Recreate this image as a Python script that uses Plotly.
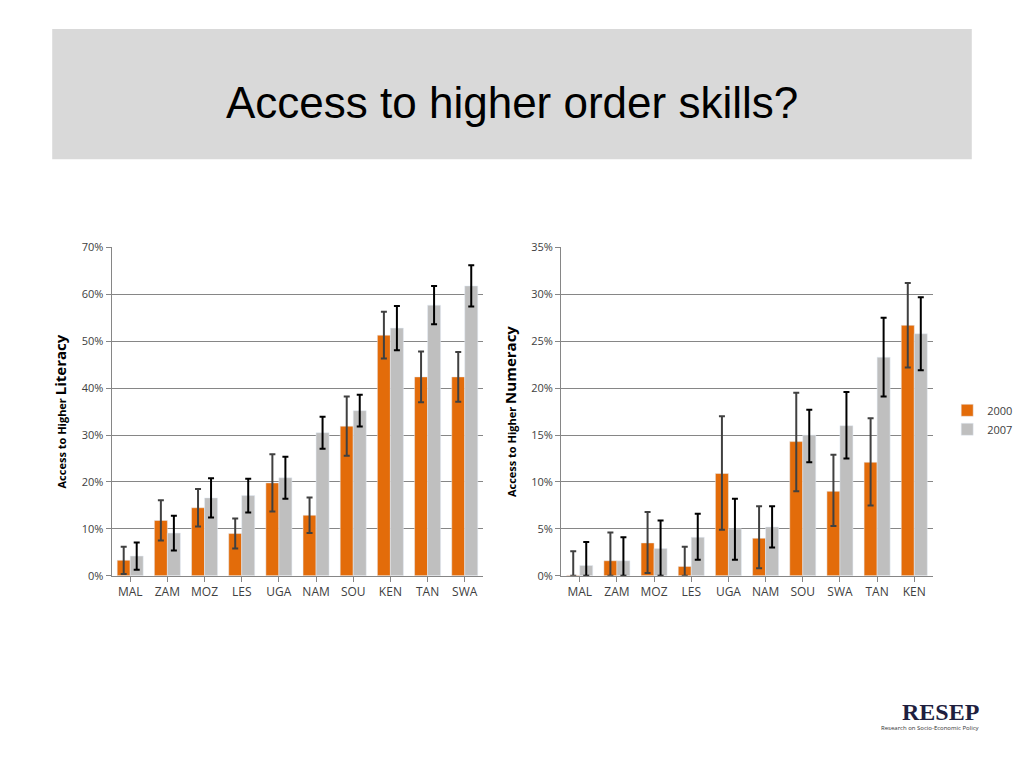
import plotly.graph_objects as go

cats_lit = ["MAL","ZAM","MOZ","LES","UGA","NAM","SOU","KEN","TAN","SWA"]
lit_2000 = [3.3,11.8,14.5,9.0,19.8,12.9,31.9,51.3,42.4,42.4]
lit_2000_err = [2.9,4.3,4.0,3.2,6.1,3.8,6.3,5.0,5.4,5.3]
lit_2007 = [4.2,9.1,16.6,17.1,20.9,30.5,35.2,52.8,57.7,61.8]
lit_2007_err = [2.9,3.7,4.2,3.6,4.5,3.4,3.4,4.7,4.1,4.4]

cats_num = ["MAL","ZAM","MOZ","LES","UGA","NAM","SOU","SWA","TAN","KEN"]
num_2000 = [0.05,1.6,3.5,1.0,10.9,4.0,14.3,9.0,12.1,26.7]
num_2000_plus = [2.55,3.0,3.3,2.1,6.1,3.4,5.2,3.9,4.7,4.5]
num_2000_minus = [0.05,1.6,3.2,1.0,6.0,3.2,5.3,3.7,4.6,4.5]
num_2007 = [1.1,1.6,2.9,4.1,5.0,5.2,15.0,16.0,23.3,25.8]
num_2007_plus = [2.5,2.5,3.0,2.5,3.2,2.2,2.7,3.6,4.2,3.9]
num_2007_minus = [1.1,1.6,2.9,2.4,3.3,2.2,2.9,3.5,4.2,3.9]

OR = "#E36C0A"; GR = "#BFBFBF"
fig = go.Figure()
fig.add_bar(x=cats_lit, y=lit_2000, marker_color=OR, name="2000", showlegend=False,
            error_y=dict(type="data", array=lit_2000_err, color="#404040", thickness=2, width=3),
            xaxis="x", yaxis="y")
fig.add_bar(x=cats_lit, y=lit_2007, marker_color=GR, name="2007", showlegend=False,
            error_y=dict(type="data", array=lit_2007_err, color="#000000", thickness=2, width=3),
            xaxis="x", yaxis="y")
fig.add_bar(x=cats_num, y=num_2000, marker_color=OR, name="2000",
            error_y=dict(type="data", symmetric=False, array=num_2000_plus, arrayminus=num_2000_minus, color="#404040", thickness=2, width=3),
            xaxis="x2", yaxis="y2")
fig.add_bar(x=cats_num, y=num_2007, marker_color=GR, name="2007",
            error_y=dict(type="data", symmetric=False, array=num_2007_plus, arrayminus=num_2007_minus, color="#000000", thickness=2, width=3),
            xaxis="x2", yaxis="y2")

font = "Open Sans, Liberation Sans, sans-serif"
ax = dict(showgrid=False, showline=True, linecolor="#868686", ticks="outside", tickcolor="#868686",
          tickfont=dict(size=12, color="#404040"), ticklen=5)
ya = dict(showgrid=True, gridcolor="#868686", showline=True, linecolor="#868686", ticks="outside",
          tickcolor="#868686", ticksuffix="%", tickfont=dict(size=11, color="#404040"), zeroline=False)
fig.update_layout(
    width=1024, height=768, paper_bgcolor="white", plot_bgcolor="white",
    font=dict(family=font), barmode="group", bargap=0.3, bargroupgap=0,
    margin=dict(l=0, r=0, t=0, b=0),
    xaxis=dict(ax, domain=[0.109, 0.472], anchor="y"),
    yaxis=dict(ya, domain=[0.246, 0.682], range=[0, 70], dtick=10, anchor="x",
               title=dict(text="<b>Access to Higher <span style='font-size:15px'>Literacy</span></b>", font=dict(size=11, color="black"), standoff=12)),
    xaxis2=dict(ax, domain=[0.548, 0.911], anchor="y2"),
    yaxis2=dict(ya, domain=[0.246, 0.682], range=[0, 35], dtick=5, anchor="x2",
                title=dict(text="<b>Access to Higher <span style='font-size:15px'>Numeracy</span></b>", font=dict(size=11, color="black"), standoff=12)),
    legend=dict(x=0.925, y=0.485, xanchor="left", yanchor="top", font=dict(size=11, color="#404040"),
                itemwidth=30, tracegroupgap=4),
    shapes=[dict(type="rect", xref="paper", yref="paper", x0=0.051, x1=0.949, y0=0.799, y1=0.972,
                 fillcolor="#D9D9D9", line=dict(width=0), layer="below")],
    annotations=[
        dict(text="Access to higher order skills?", xref="paper", yref="paper", x=0.5, y=0.875,
             yanchor="middle", showarrow=False, font=dict(family="Liberation Sans, Arial", size=44, color="black")),
        dict(text="<b>RESEP</b>", xref="paper", yref="paper", x=0.958, y=1-718/768, xanchor="right",
             yanchor="middle", showarrow=False, font=dict(family="Liberation Serif", size=24, color="#1F1F3F")),
        dict(text="Research on Socio-Economic Policy", xref="paper", yref="paper", x=0.958, y=1-734/768,
             xanchor="right", yanchor="middle", showarrow=False, font=dict(size=6, color="#333")),
    ],
)
fig.write_html("out.html", config={"displayModeBar": False},
               post_script="document.body.style.margin='0';document.body.style.overflow='hidden';")
